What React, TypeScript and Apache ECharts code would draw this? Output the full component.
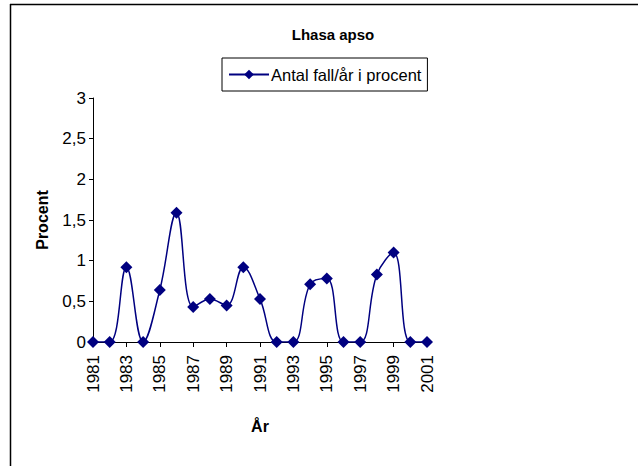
import React, { useEffect, useRef } from "react";
import * as echarts from "echarts";

const years = ["1981","1982","1983","1984","1985","1986","1987","1988","1989","1990","1991","1992","1993","1994","1995","1996","1997","1998","1999","2000","2001"];
const values = [0, 0, 0.92, 0, 0.64, 1.59, 0.43, 0.53, 0.45, 0.92, 0.53, 0, 0, 0.71, 0.78, 0, 0, 0.83, 1.10, 0, 0];
const seriesName = "Antal fall/år i procent";
const titleText = "Lhasa apso";
const yName = "Procent";
const xName = "År";

const FONT = "'Liberation Sans', Arial, sans-serif";

export default function App() {
  const ref = useRef<HTMLDivElement>(null);
  useEffect(() => {
    const chart = echarts.init(ref.current!, null, { renderer: "svg" });
    chart.setOption({
      animation: false,
      backgroundColor: "#ffffff",
      title: {
        text: titleText,
        left: 328,
        top: 22,
        textAlign: "center",
        textStyle: { fontFamily: FONT, fontSize: 15, fontWeight: "bold", color: "#000" },
      },
      legend: {
        left: 222,
        top: 58,
        width: 205,
        height: 34,
        padding: [8, 6, 8, 6],
        borderColor: "#000",
        borderWidth: 1,
        itemWidth: 40,
        itemHeight: 12,
        itemGap: 4,
        textStyle: { fontFamily: FONT, fontSize: 16.5, color: "#000", padding: [0, 0, 0, -3] },
        data: [seriesName],
      },
      grid: { left: 93, top: 98, right: 211, bottom: 124 },
      xAxis: {
        type: "category",
        data: years,
        boundaryGap: false,
        name: xName,
        nameLocation: "middle",
        nameGap: 76,
        nameTextStyle: { fontFamily: FONT, fontSize: 16, fontWeight: "bold", color: "#000" },
        axisLine: { lineStyle: { color: "#000", width: 1 } },
        axisTick: { interval: 1, length: 5, lineStyle: { color: "#000" } },
        axisLabel: {
          interval: 1,
          rotate: 90,
          fontFamily: FONT,
          fontSize: 17,
          color: "#000",
          margin: 13,
        },
        splitLine: { show: false },
      },
      yAxis: {
        type: "value",
        min: 0,
        max: 3,
        interval: 0.5,
        name: yName,
        nameLocation: "middle",
        nameGap: 43,
        nameRotate: 90,
        nameTextStyle: { fontFamily: FONT, fontSize: 16, fontWeight: "bold", color: "#000" },
        axisLine: { show: true, lineStyle: { color: "#000", width: 1 } },
        axisTick: { show: true, length: 4, lineStyle: { color: "#000" } },
        axisLabel: {
          fontFamily: FONT,
          fontSize: 17,
          color: "#000",
          margin: 7,
          formatter: (v: number) => String(v).replace(".", ","),
        },
        splitLine: { show: false },
      },
      series: [
        {
          name: seriesName,
          type: "line",
          data: values,
          smooth: 0.4,
          showAllSymbol: true,
          symbol: "diamond",
          symbolSize: 12,
          itemStyle: { color: "#000080" },
          lineStyle: { color: "#000080", width: 1.5 },
        },
      ],
      graphic: [
        { type: "line", shape: { x1: 10, y1: 4.5, x2: 638, y2: 4.5 }, style: { stroke: "#000", lineWidth: 1.5 } },
        { type: "line", shape: { x1: 10.5, y1: 4, x2: 10.5, y2: 466 }, style: { stroke: "#000", lineWidth: 1.5 } },
      ],
    });
    return () => chart.dispose();
  }, []);
  return (
    <div
      ref={ref}
      style={{ position: "fixed", left: 0, top: 0, width: 638, height: 466, background: "#fff" }}
    />
  );
}
